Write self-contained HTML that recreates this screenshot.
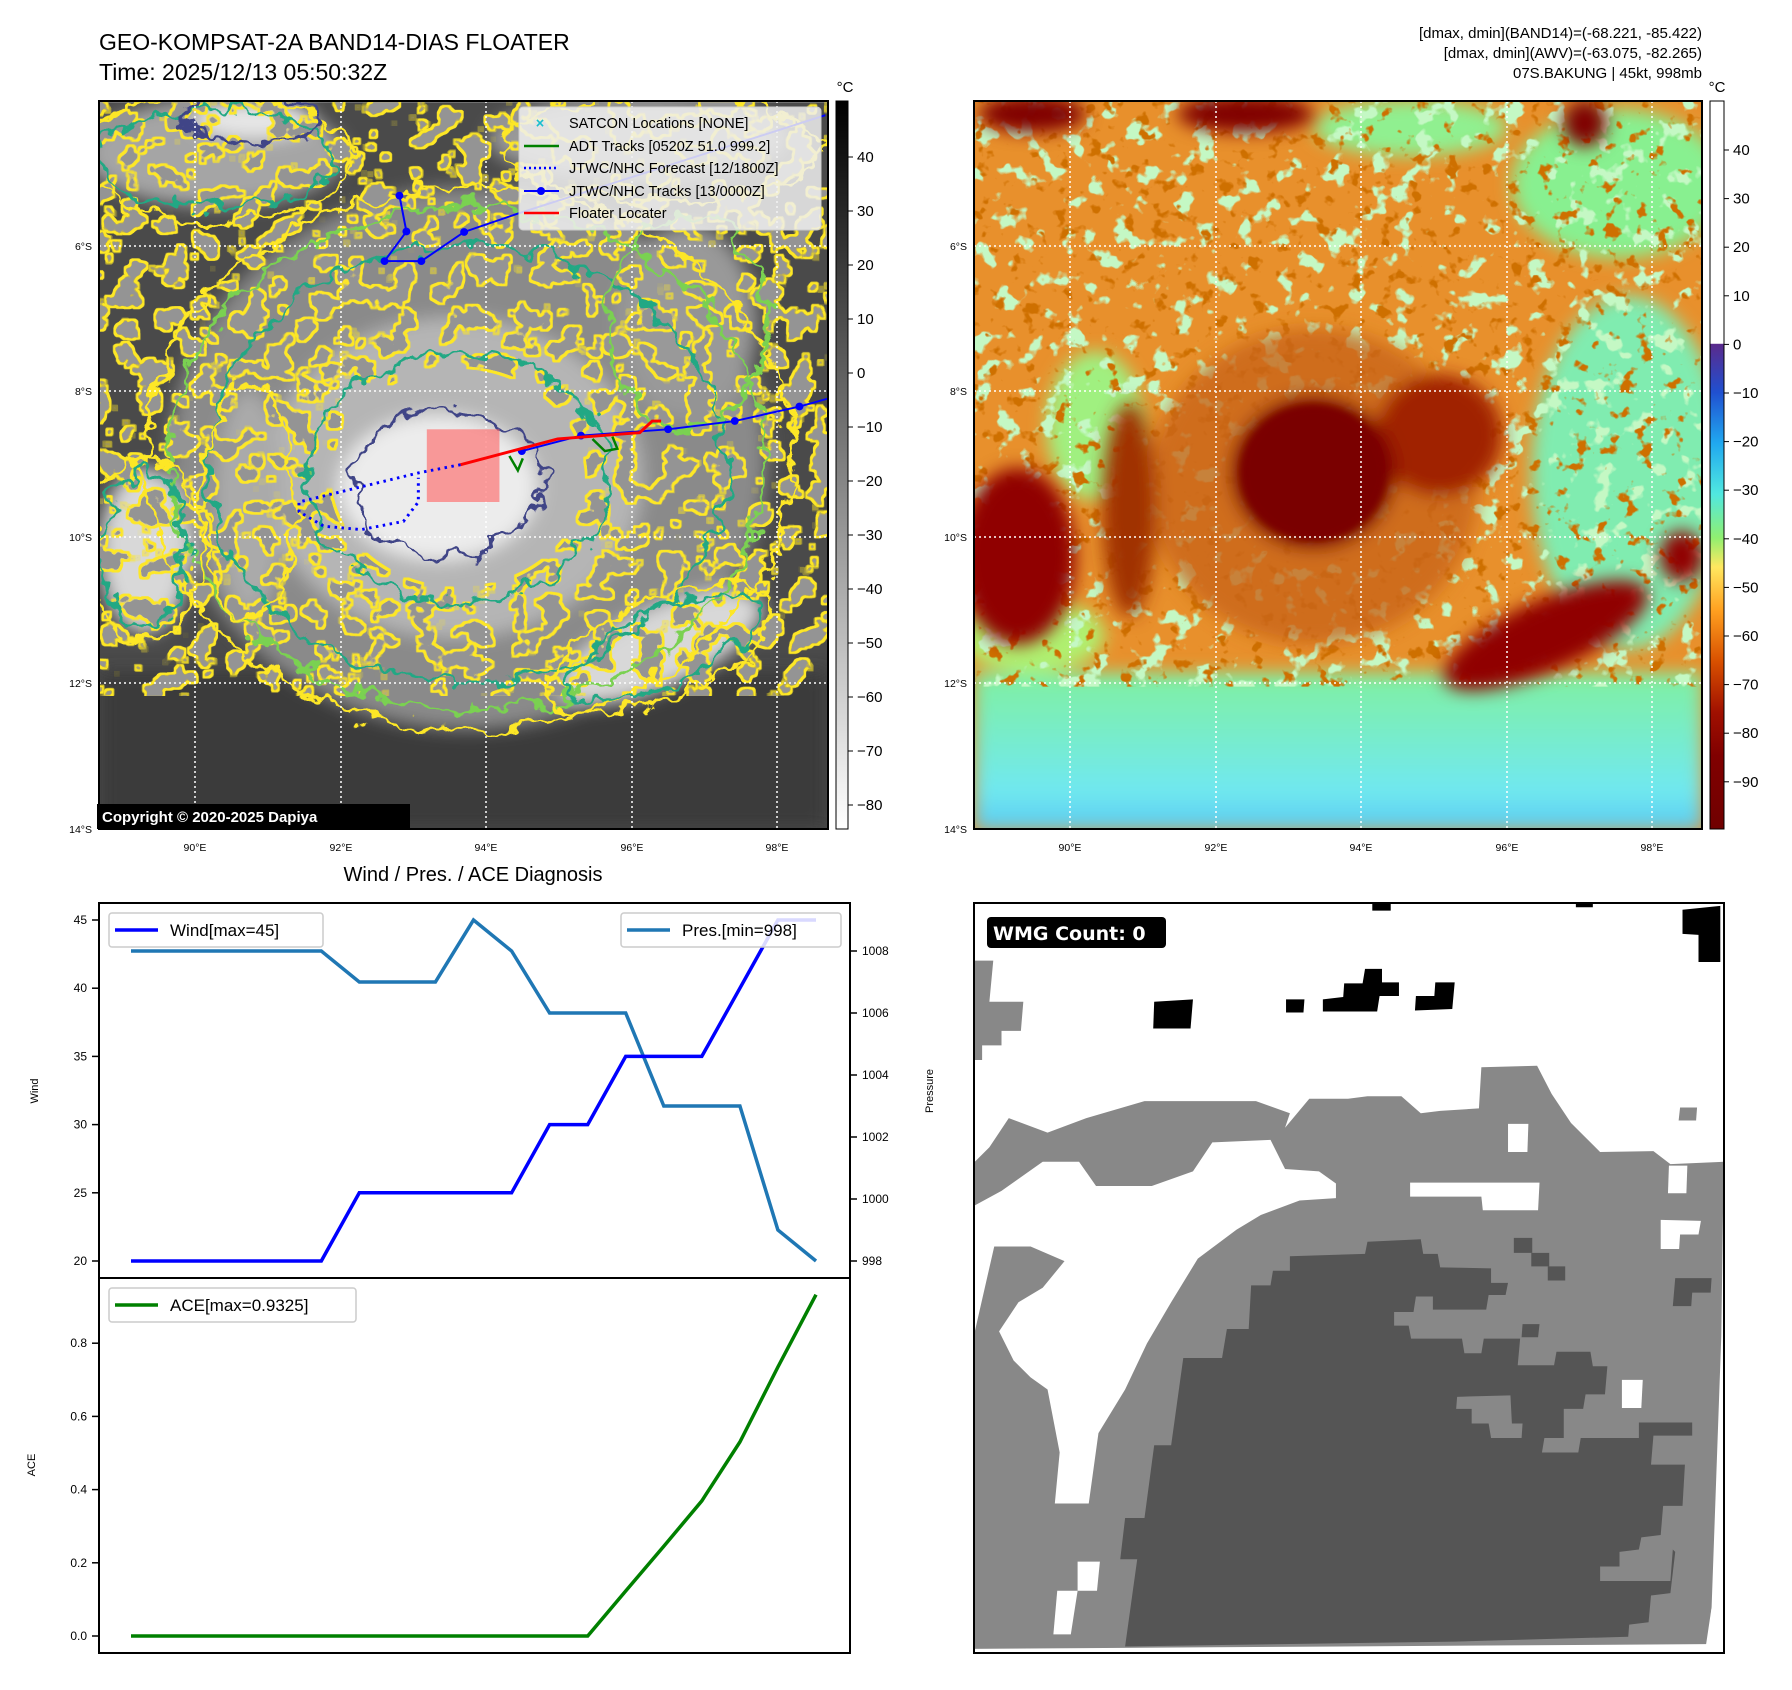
<!DOCTYPE html>
<html><head><meta charset="utf-8"><style>
html,body{margin:0;padding:0;background:#fff;}
svg{display:block;font-family:"Liberation Sans",sans-serif;}
</style></head><body>
<svg id="fig" width="1792" height="1690" viewBox="0 0 1792 1690" xmlns="http://www.w3.org/2000/svg">
<defs>
<clipPath id="clipL"><rect x="20" y="25" width="1462" height="1500"/></clipPath>
<clipPath id="clipR"><rect x="0" y="2" width="1503" height="1564"/></clipPath>
<filter id="blur" x="-20%" y="-20%" width="140%" height="140%"><feGaussianBlur stdDeviation="18"/></filter>
<filter id="blur2" x="-20%" y="-20%" width="140%" height="140%"><feGaussianBlur stdDeviation="8"/></filter>
<filter id="wig" x="-10%" y="-10%" width="120%" height="120%"><feTurbulence type="fractalNoise" baseFrequency="0.02" numOctaves="3" seed="4"/><feDisplacementMap in="SourceGraphic" scale="70" xChannelSelector="R" yChannelSelector="G"/></filter>
<filter id="speckG" x="0" y="0" width="100%" height="100%">
<feTurbulence type="fractalNoise" baseFrequency="0.022" numOctaves="3" seed="2" result="n"/>
<feColorMatrix in="n" type="matrix" values="0 0 0 0 0.55  0 0 0 0 0.94  0 0 0 0 0.55  12 0 0 0 -7.1" result="c"/>
<feComposite in="c" in2="SourceGraphic" operator="in"/></filter>
<filter id="speckB" x="0" y="0" width="100%" height="100%">
<feTurbulence type="fractalNoise" baseFrequency="0.03" numOctaves="3" seed="7" result="n"/>
<feColorMatrix in="n" type="matrix" values="0 0 0 0 0.62  0 0 0 0 0.16  0 0 0 0 0.0  10 0 0 0 -6.2" result="c"/>
<feComposite in="c" in2="SourceGraphic" operator="in"/></filter>
<filter id="speckD" x="0" y="0" width="100%" height="100%">
<feTurbulence type="fractalNoise" baseFrequency="0.02" numOctaves="3" seed="11" result="n"/>
<feColorMatrix in="n" type="matrix" values="0 0 0 0 0.3  0 0 0 0 0.3  0 0 0 0 0.3  30 0 0 0 -17.2" result="c"/>
<feComposite in="c" in2="SourceGraphic" operator="in" result="dark"/>
<feMorphology in="dark" operator="dilate" radius="5" result="dil"/>
<feComposite in="dil" in2="dark" operator="out" result="ring"/>
<feFlood flood-color="#fde725"/>
<feComposite in2="ring" operator="in" result="yring"/>
<feMerge><feMergeNode in="dark"/><feMergeNode in="yring"/></feMerge>
</filter>
<linearGradient id="gL" x1="0" y1="0" x2="0" y2="1"><stop offset="0" stop-color="#000"/><stop offset="1" stop-color="#fff"/></linearGradient>
<linearGradient id="gR" x1="0" y1="0" x2="0" y2="1">
<stop offset="0" stop-color="#ffffff"/><stop offset="0.333" stop-color="#ffffff"/>
<stop offset="0.334" stop-color="#5a2a8c"/><stop offset="0.40" stop-color="#2050d0"/>
<stop offset="0.47" stop-color="#20a8f0"/><stop offset="0.54" stop-color="#50e8e0"/>
<stop offset="0.60" stop-color="#90f070"/><stop offset="0.64" stop-color="#ffe860"/>
<stop offset="0.70" stop-color="#ffa020"/><stop offset="0.77" stop-color="#d85000"/>
<stop offset="0.84" stop-color="#a01000"/><stop offset="0.90" stop-color="#800000"/>
<stop offset="1" stop-color="#700000"/></linearGradient>
<linearGradient id="seaR" x1="0" y1="0" x2="0" y2="1"><stop offset="0" stop-color="#80f0a0"/><stop offset="0.75" stop-color="#70e8f0"/><stop offset="1" stop-color="#5ac8f0"/></linearGradient>
</defs>

<text x="99" y="50" font-size="23">GEO-KOMPSAT-2A BAND14-DIAS FLOATER</text>
<text x="99" y="80" font-size="23">Time: 2025/12/13 05:50:32Z</text>
<g font-size="15" text-anchor="end">
<text x="1702" y="38">[dmax, dmin](BAND14)=(-68.221, -85.422)</text>
<text x="1702" y="58">[dmax, dmin](AWV)=(-63.075, -82.265)</text>
<text x="1702" y="78">07S.BAKUNG | 45kt, 998mb</text>
</g>

<!-- LEFT MAP -->
<g>
<g transform="translate(90,90) scale(0.4975,0.4847)">
<g clip-path="url(#clipL)">
<rect x="20" y="25" width="1462" height="1500" fill="#4a4a4a"/>
<rect x="20" y="1200" width="1462" height="325" fill="#3a3a3a" filter="url(#blur)"/>
<g filter="url(#blur)">
<ellipse cx="760" cy="760" rx="600" ry="560" fill="#8a8a8a"/>
<ellipse cx="730" cy="800" rx="380" ry="330" fill="#b5b5b5"/>
<ellipse cx="700" cy="820" rx="200" ry="150" fill="#ececec"/>
<ellipse cx="110" cy="950" rx="90" ry="170" fill="#d8d8d8"/>
<ellipse cx="1150" cy="1150" rx="220" ry="80" transform="rotate(-25 1150 1150)" fill="#d8d8d8"/>
<ellipse cx="250" cy="130" rx="260" ry="110" fill="#a5a5a5"/>
<ellipse cx="330" cy="60" rx="120" ry="40" fill="#e6e6e6"/>
<ellipse cx="1200" cy="480" rx="140" ry="200" fill="#999"/>
<ellipse cx="320" cy="850" rx="70" ry="230" fill="#aaa"/>
<ellipse cx="1100" cy="100" rx="300" ry="90" fill="#999"/>
</g>
<path d="M20,25H1482V1250H20Z M480,800a260,230 0 1,0 520,0a260,230 0 1,0 -520,0Z" fill-rule="evenodd" fill="#fff" filter="url(#speckD)"/>
<g fill="none" stroke-width="7" filter="url(#wig)">
<ellipse cx="760" cy="760" rx="650" ry="560" stroke="#fde725"/>
<ellipse cx="760" cy="760" rx="600" ry="520" stroke="#7ad151"/>
<ellipse cx="760" cy="770" rx="520" ry="450" stroke="#22a884"/>
<ellipse cx="740" cy="800" rx="300" ry="260" stroke="#22a884"/>
<ellipse cx="720" cy="810" rx="190" ry="150" stroke="#414487"/>
<ellipse cx="110" cy="950" rx="110" ry="190" stroke="#fde725"/>
<ellipse cx="110" cy="950" rx="85" ry="160" stroke="#22a884"/>
<ellipse cx="1150" cy="1150" rx="250" ry="100" transform="rotate(-25 1150 1150)" stroke="#fde725"/>
<ellipse cx="1150" cy="1150" rx="210" ry="75" transform="rotate(-25 1150 1150)" stroke="#22a884"/>
<ellipse cx="250" cy="140" rx="280" ry="130" stroke="#fde725"/>
<ellipse cx="250" cy="140" rx="240" ry="100" stroke="#22a884"/>
<ellipse cx="1150" cy="120" rx="320" ry="110" stroke="#fde725"/>
<ellipse cx="320" cy="850" rx="90" ry="250" stroke="#fde725"/>
<ellipse cx="1200" cy="480" rx="160" ry="220" stroke="#7ad151"/>
<ellipse cx="330" cy="60" rx="140" ry="50" stroke="#414487"/>
</g>
</g>
</g>
<g stroke="#fff" stroke-width="1.5" stroke-dasharray="2,3">
<line x1="195" y1="101" x2="195" y2="829"/><line x1="341" y1="101" x2="341" y2="829"/><line x1="486" y1="101" x2="486" y2="829"/><line x1="632" y1="101" x2="632" y2="829"/><line x1="777" y1="101" x2="777" y2="829"/>
<line x1="99" y1="246" x2="828" y2="246"/><line x1="99" y1="391" x2="828" y2="391"/><line x1="99" y1="537" x2="828" y2="537"/><line x1="99" y1="683" x2="828" y2="683"/>
</g>
<g transform="translate(90,90) scale(0.4975,0.4847)">
<rect x="677" y="700" width="146" height="150" fill="#ff6b6b" opacity="0.65"/>
<polyline points="745,773 660,790 540,820 420,850 420,870 470,900 545,907 630,890 660,850 660,800" fill="none" stroke="#0000ff" stroke-width="6" stroke-dasharray="5,9"/>
<polyline points="622,218 636,292 592,353 666,353 752,293 860,255 1478,52" fill="none" stroke="#0000ff" stroke-width="4"/>
<g fill="#0000ff"><circle cx="622" cy="218" r="8"/><circle cx="636" cy="292" r="8"/><circle cx="592" cy="353" r="8"/><circle cx="666" cy="353" r="8"/><circle cx="752" cy="293" r="8"/>
<circle cx="868" cy="745" r="8"/><circle cx="987" cy="713" r="8"/><circle cx="1162" cy="700" r="8"/><circle cx="1296" cy="683" r="8"/><circle cx="1426" cy="653" r="8"/></g>
<polyline points="868,745 987,713 1162,700 1296,683 1426,653 1482,637" fill="none" stroke="#0000ff" stroke-width="4"/>
<polyline points="843,755 860,785 870,760" fill="none" stroke="#008000" stroke-width="5"/>
<polyline points="1010,720 1035,745 1060,740 1050,715" fill="none" stroke="#008000" stroke-width="5"/>
<polyline points="745,773 940,720 1105,707 1130,683 1148,683" fill="none" stroke="#ff0000" stroke-width="6"/>
</g>
<rect x="99" y="101" width="729" height="728" fill="none" stroke="#000" stroke-width="2"/>
<g>
<rect x="519" y="107" width="302" height="123" rx="4" fill="#f0f0f0" fill-opacity="0.85" stroke="#ccc"/>
<g font-size="14.5">
<text x="540" y="128" fill="#17becf" text-anchor="middle" font-weight="bold">×</text><text x="569" y="128">SATCON Locations [NONE]</text>
<line x1="524" y1="146" x2="559" y2="146" stroke="#008000" stroke-width="2.5"/><text x="569" y="151">ADT Tracks [0520Z 51.0 999.2]</text>
<line x1="524" y1="168" x2="559" y2="168" stroke="#0000ff" stroke-width="2.5" stroke-dasharray="2,3"/><text x="569" y="173">JTWC/NHC Forecast [12/1800Z]</text>
<line x1="524" y1="191" x2="559" y2="191" stroke="#0000ff" stroke-width="2"/><circle cx="541" cy="191" r="4" fill="#0000ff"/><text x="569" y="196">JTWC/NHC Tracks [13/0000Z]</text>
<line x1="524" y1="213" x2="559" y2="213" stroke="#ff0000" stroke-width="2.5"/><text x="569" y="218">Floater Locater</text>
</g></g>
<rect x="97" y="804" width="313" height="25" fill="#000"/>
<text x="102" y="822" font-size="15" font-weight="bold" fill="#fff">Copyright © 2020-2025 Dapiya</text>
<g font-size="10.5" text-anchor="end">
<text x="92" y="250">6°S</text><text x="92" y="395">8°S</text><text x="92" y="541">10°S</text><text x="92" y="687">12°S</text><text x="92" y="833">14°S</text></g>
<g font-size="10.5" text-anchor="middle">
<text x="195" y="851">90°E</text><text x="341" y="851">92°E</text><text x="486" y="851">94°E</text><text x="632" y="851">96°E</text><text x="777" y="851">98°E</text></g>
</g>

<g>
<rect x="836" y="101" width="12" height="728" fill="url(#gL)" stroke="#000" stroke-width="1"/>
<text x="845" y="92" font-size="15" text-anchor="middle">°C</text>
<g font-size="15" id="cbL"></g>
</g>

<!-- RIGHT MAP -->
<g>
<g transform="translate(974,100) scale(0.4847,0.4656)">
<g clip-path="url(#clipR)">
<rect x="0" y="0" width="1503" height="1568" fill="#e8902c"/>
<g filter="url(#blur)">
<rect x="0" y="1230" width="1503" height="340" fill="url(#seaR)"/>
<ellipse cx="1350" cy="800" rx="200" ry="380" fill="#80ecb0"/>
<ellipse cx="1330" cy="180" rx="220" ry="160" fill="#88f090"/>
<ellipse cx="900" cy="60" rx="200" ry="60" fill="#90f090"/>
<ellipse cx="250" cy="700" rx="100" ry="160" fill="#a0f080"/>
<ellipse cx="120" cy="1150" rx="150" ry="80" fill="#b0f070"/>
</g>
<path d="M0,0H1503V1260H0Z" fill="#fff" filter="url(#speckG)"/>
<path d="M0,0H1503V1260H0Z" fill="#fff" filter="url(#speckB)"/>
<g filter="url(#blur)">
<ellipse cx="700" cy="830" rx="340" ry="340" fill="#c8641a" opacity="0.8"/>
<ellipse cx="960" cy="720" rx="130" ry="130" fill="#a02000"/>
<ellipse cx="700" cy="800" rx="170" ry="165" fill="#800000"/>
<ellipse cx="90" cy="980" rx="120" ry="190" fill="#900000"/>
<ellipse cx="320" cy="880" rx="55" ry="230" fill="#a03000"/>
<ellipse cx="1180" cy="1150" rx="230" ry="75" transform="rotate(-25 1180 1150)" fill="#900000"/>
<ellipse cx="120" cy="30" rx="110" ry="40" fill="#800000"/>
<ellipse cx="560" cy="30" rx="140" ry="40" fill="#800000"/>
<ellipse cx="1260" cy="50" rx="45" ry="50" fill="#800000"/>
<ellipse cx="1460" cy="980" rx="45" ry="55" fill="#900000"/>
</g>
<g filter="url(#blur2)">
<ellipse cx="700" cy="800" rx="150" ry="145" fill="#7a0000"/>
</g>
</g>
</g>
<g stroke="#fff" stroke-width="1.5" stroke-dasharray="2,3">
<line x1="1070" y1="101" x2="1070" y2="829"/><line x1="1216" y1="101" x2="1216" y2="829"/><line x1="1361" y1="101" x2="1361" y2="829"/><line x1="1507" y1="101" x2="1507" y2="829"/><line x1="1652" y1="101" x2="1652" y2="829"/>
<line x1="974" y1="246" x2="1702" y2="246"/><line x1="974" y1="391" x2="1702" y2="391"/><line x1="974" y1="537" x2="1702" y2="537"/><line x1="974" y1="683" x2="1702" y2="683"/>
</g>
<rect x="974" y="101" width="728" height="728" fill="none" stroke="#000" stroke-width="2"/>
<g font-size="10.5" text-anchor="end">
<text x="967" y="250">6°S</text><text x="967" y="395">8°S</text><text x="967" y="541">10°S</text><text x="967" y="687">12°S</text><text x="967" y="833">14°S</text></g>
<g font-size="10.5" text-anchor="middle">
<text x="1070" y="851">90°E</text><text x="1216" y="851">92°E</text><text x="1361" y="851">94°E</text><text x="1507" y="851">96°E</text><text x="1652" y="851">98°E</text></g>
</g>
<g>
<rect x="1710" y="101" width="14" height="728" fill="url(#gR)" stroke="#000" stroke-width="1"/>
<text x="1717" y="92" font-size="15" text-anchor="middle">°C</text>
<g font-size="15" id="cbR"></g>
</g>

<text x="473" y="881" font-size="20" text-anchor="middle">Wind / Pres. / ACE Diagnosis</text>
<g id="diag"></g>

<g>
<rect x="974" y="903" width="750" height="750" fill="#fff"/>
<g transform="translate(970,900) scale(0.4847,0.4847)">
<polygon fill="#888" points="10,540 40,510 80,450 160,480 240,450 360,415 590,415 660,440 650,470 700,410 780,410 820,405 890,405 930,440 970,435 1050,430 1055,345 1170,342 1200,400 1240,460 1270,490 1300,520 1410,518 1445,545 1555,540 1550,900 1530,1460 1520,1545 10,1550"/>
<polygon fill="#fff" points="10,630 65,600 150,540 225,540 260,590 375,590 460,560 500,500 620,495 650,555 720,560 755,585 755,615 680,620 600,650 550,680 510,710 470,740 415,830 365,915 320,1010 265,1100 245,1245 175,1245 185,1140 160,1010 125,985 90,950 60,890 100,830 150,800 195,745 125,715 50,715 10,890"/>
<polygon fill="#888" points="10,125 48,125 40,210 110,210 105,270 65,270 65,300 25,300 25,330 10,330"/>
<polygon fill="#555" points="320,1540 345,1360 310,1360 320,1275 360,1275 380,1125 415,1125 440,945 520,945 530,885 575,885 580,795 620,795 625,765 660,765 660,735 815,730 820,705 930,700 935,730 965,730 970,758 1075,760 1075,790 1110,790 1105,815 1070,815 1065,845 955,845 955,818 920,818 915,850 875,850 875,878 905,878 910,905 1015,905 1020,935 1055,935 1060,905 1135,905 1130,960 1205,960 1210,932 1280,932 1285,962 1315,962 1310,1020 1270,1020 1265,1050 1225,1050 1225,1110 1185,1110 1180,1140 1255,1140 1260,1110 1380,1110 1380,1078 1490,1078 1490,1105 1410,1105 1405,1165 1475,1165 1470,1250 1430,1250 1425,1310 1385,1315 1380,1340 1340,1345 1340,1375 1300,1375 1300,1405 1445,1405 1450,1340 1455,1345 1445,1430 1405,1435 1400,1490 1360,1495 1358,1520 1000,1530"/>
<polygon fill="#888" points="1005,1025 1115,1022 1118,1080 1140,1080 1138,1110 1075,1110 1070,1080 1035,1080 1035,1050 1003,1050"/>
<g fill="#fff">
<polygon points="1110,462 1152,462 1150,520 1110,520"/>
<polygon points="908,583 1175,583 1172,640 1058,640 1055,612 908,612"/>
<polygon points="1425,660 1508,662 1503,690 1465,690 1463,720 1425,720"/>
<polygon points="1345,990 1388,990 1385,1048 1345,1048"/>
<polygon points="222,1365 268,1365 262,1425 222,1425"/>
<polygon points="180,1425 222,1425 208,1515 172,1515"/>
<polygon points="1442,548 1480,548 1478,605 1440,605"/>
<polygon points="1530,1460 1560,1460 1560,1560 1515,1560"/>
<polygon points="0,1545 1560,1535 1560,1568 0,1568"/>
</g>
<g fill="#555">
<polygon points="1122,697 1160,697 1160,728 1122,728"/>
<polygon points="1158,728 1195,728 1195,756 1158,756"/>
<polygon points="1192,756 1228,756 1228,785 1192,785"/>
<polygon points="1455,780 1530,780 1528,810 1490,810 1488,838 1450,838"/>
<polygon points="1140,875 1175,875 1172,902 1138,902"/>
</g>
<polygon fill="#888" points="1465,428 1500,428 1498,455 1462,455"/>
<g fill="#000">
<polygon points="380,210 460,205 455,265 378,265"/>
<polygon points="652,205 690,205 688,232 652,232"/>
<polygon points="728,205 770,200 772,172 810,172 815,142 850,142 850,170 885,170 885,198 845,198 840,230 728,230"/>
<polygon points="920,198 958,198 960,170 1000,170 995,225 918,228"/>
<polygon points="1470,20 1548,12 1548,128 1503,128 1503,72 1470,70"/>
<polygon points="830,8 868,8 868,22 830,22"/>
<polygon points="1250,8 1285,8 1285,15 1250,15"/>
</g>
</g>
<rect x="974" y="903" width="750" height="750" fill="none" stroke="#000" stroke-width="2"/>
<rect x="987" y="917" width="179" height="31" rx="4" fill="#000"/>
<text x="993" y="940" font-size="19" font-weight="bold" fill="#fff" font-family="'DejaVu Sans',sans-serif">WMG Count: 0</text>
</g>
</svg>
<script>
const NS = 'http://www.w3.org/2000/svg';
const windVals = [20,20,20,20,20,20,25,25,25,25,25,30,30,35,35,35,40,45,45];
const presVals = [1008,1008,1008,1008,1008,1008,1007,1007,1007,1009,1008,1006,1006,1006,1003,1003,1003,999,998];
const aceVals = [0,0,0,0,0,0,0,0,0,0,0,0,0,0.123,0.245,0.369,0.53,0.735,0.9325];
const windTicks = [20,25,30,35,40,45];
const presTicks = [998,1000,1002,1004,1006,1008];
const aceTicks = [0.0,0.2,0.4,0.6,0.8];
const irCbTicks = [40,30,20,10,0,-10,-20,-30,-40,-50,-60,-70,-80];
const awvCbTicks = [40,30,20,10,0,-10,-20,-30,-40,-50,-60,-70,-80,-90];

function mk(tag, attrs, parent){const e=document.createElementNS(NS,tag);for(const k in attrs)e.setAttribute(k,attrs[k]);parent.appendChild(e);return e;}
const xS = i => 131 + i*(685/18);
const wY = w => 1261 - (w-20)*13.64;
const pY = p => 1261 - (p-998)*31.0;
const aY = a => 1636 - a*366;

const g = document.getElementById('diag');
let b1 = mk('rect',{x:99,y:903,width:751,height:375,fill:'none',stroke:'#000','stroke-width':2},g);


let b2 = mk('rect',{x:99,y:1278,width:751,height:375,fill:'none',stroke:'#000','stroke-width':2},g);



function tickL(y,label,name){
  const t=mk('line',{x1:92,y1:y,x2:99,y2:y,stroke:'#000','stroke-width':1.5},g);
  
  
  const tx=mk('text',{x:87,y:y+4,'font-size':12,'text-anchor':'end'},g);tx.textContent=label;
  
  
}
windTicks.forEach(v=>tickL(wY(v),String(v),'wind-axis'));
aceTicks.forEach(v=>tickL(aY(v),v.toFixed(1),'ace-axis'));
presTicks.forEach(v=>{
  const y=pY(v);
  const t=mk('line',{x1:850,y1:y,x2:857,y2:y,stroke:'#000','stroke-width':1.5},g);
  
  
  const tx=mk('text',{x:862,y:y+4,'font-size':12},g);tx.textContent=String(v);
  
  
});
function ylab(x,y,txt,name){const t=mk('text',{x:x,y:y,'font-size':11,'text-anchor':'middle',transform:'rotate(-90 '+x+' '+y+')'},g);t.textContent=txt;
  
  }
ylab(38,1091,'Wind','wind-axis-title');
ylab(35,1465,'ACE','ace-axis-title');
ylab(933,1091,'Pressure','pressure-axis-title');

function series(vals,yf,color,name){
  const pts=vals.map((v,i)=>xS(i).toFixed(1)+','+yf(v).toFixed(1)).join(' ');
  const l=mk('polyline',{points:pts,fill:'none',stroke:color,'stroke-width':3.5,'stroke-linejoin':'miter'},g);
  
  
}
series(presVals,pY,'#1f77b4','pressure-line');
series(windVals,wY,'#0000ff','wind-line');
series(aceVals,aY,'#008000','ace-line');

function legend(x,y,w,color,label,name){
  const r=mk('rect',{x:x,y:y,width:w,height:34,rx:3,fill:'#fff','fill-opacity':0.85,stroke:'#ccc','stroke-width':1.5},g);
  
  
  const l=mk('line',{x1:x+6,y1:y+17,x2:x+49,y2:y+17,stroke:color,'stroke-width':3.5},g);
  
  
  const t=mk('text',{x:x+61,y:y+23,'font-size':17},g);t.textContent=label;
  
  
}
legend(109,913,214,'#0000ff','Wind[max=45]','wind-legend');
legend(621,913,220,'#1f77b4','Pres.[min=998]','pressure-legend');
legend(109,1288,247,'#008000','ACE[max=0.9325]','ace-legend');

const cbL=document.getElementById('cbL');
irCbTicks.forEach(v=>{const y=157+(40-v)*5.4;
  const t=mk('line',{x1:848,y1:y,x2:853,y2:y,stroke:'#000'},cbL);
  
  
  const tx=mk('text',{x:857,y:y+5},cbL);tx.textContent=(v<0?'\u2212'+(-v):String(v));
  
  });
const cbR=document.getElementById('cbR');
awvCbTicks.forEach(v=>{const y=150+(40-v)*4.86;
  const t=mk('line',{x1:1724,y1:y,x2:1729,y2:y,stroke:'#000'},cbR);
  
  
  const tx=mk('text',{x:1733,y:y+5},cbR);tx.textContent=(v<0?'\u2212'+(-v):String(v));
  
  });
</script>
</body></html>
